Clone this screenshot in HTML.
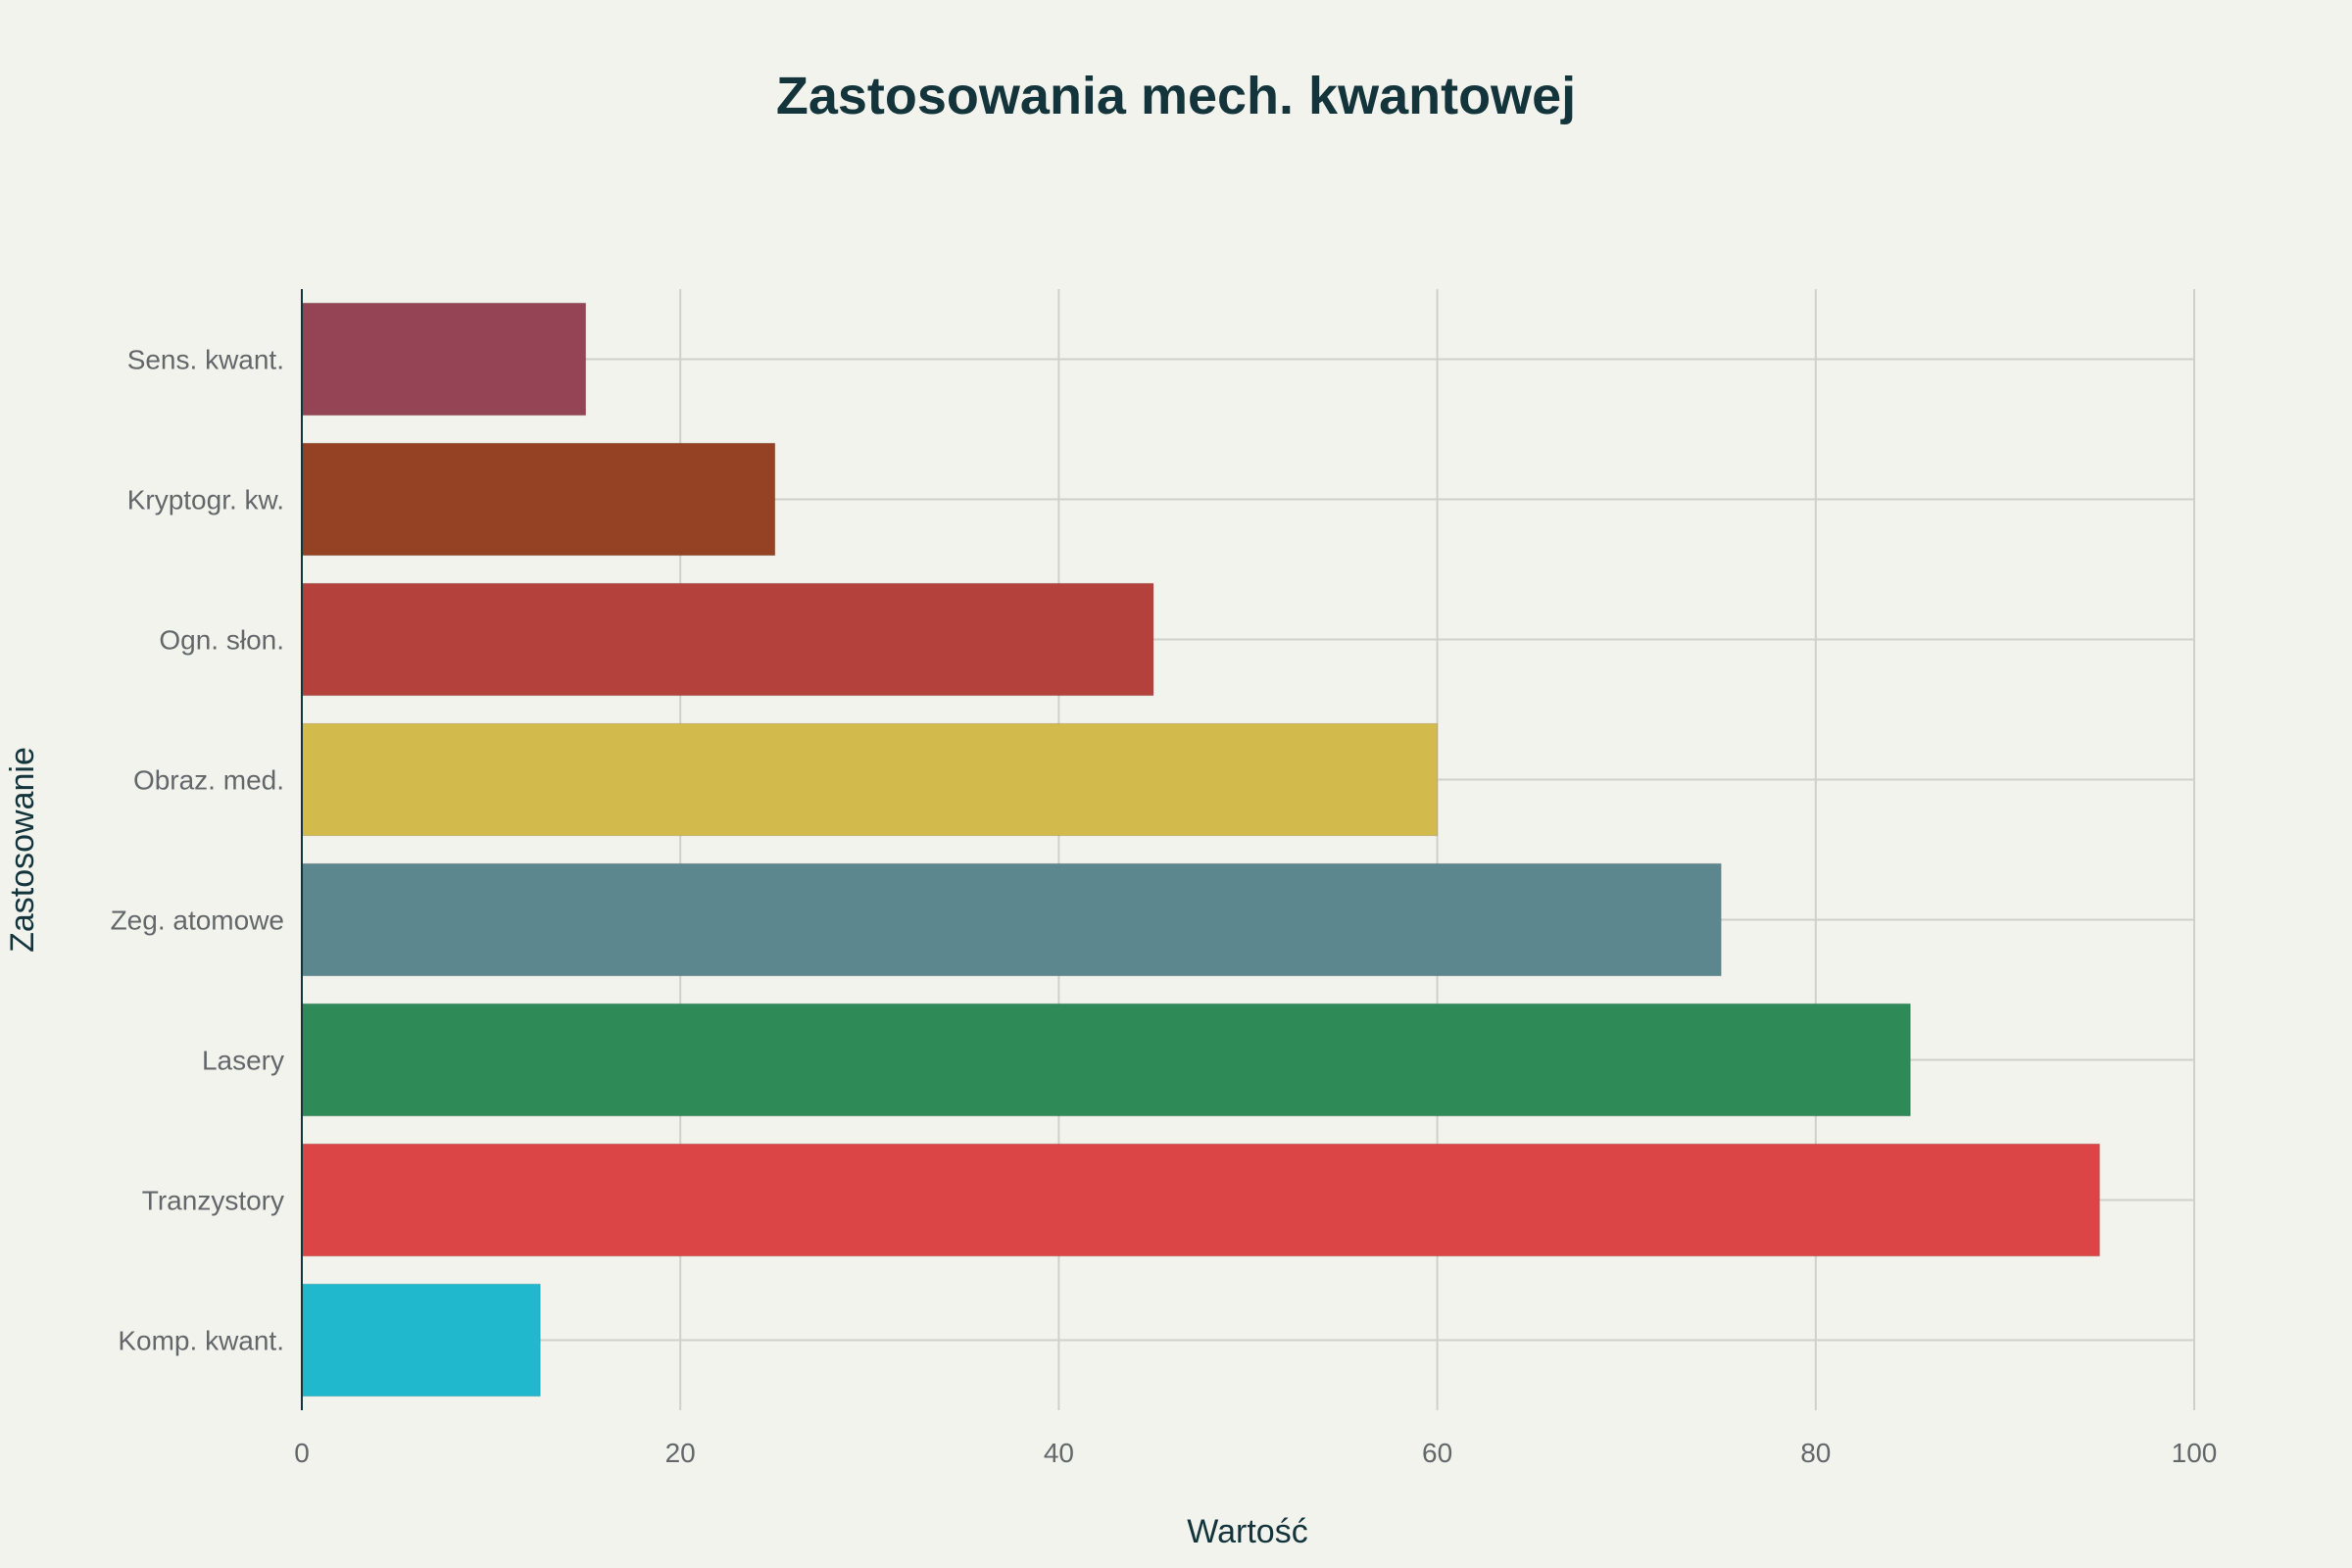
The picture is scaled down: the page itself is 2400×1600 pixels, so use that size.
<!DOCTYPE html>
<html><head><meta charset="utf-8"><style>
html,body{margin:0;padding:0;background:#f3f3ee;}
svg{display:block;font-family:"Liberation Sans",sans-serif;}
</style></head><body>
<svg id="chart" width="2400" height="1600" viewBox="0 0 2400 1600" xmlns="http://www.w3.org/2000/svg">
<rect width="2400" height="1600" fill="#f3f3ee"/>
<text x="1200" y="116" text-anchor="middle" font-size="54" font-weight="bold" fill="#13343b">Zastosowania mech. kwantowej</text>
<g id="grid"></g><g id="bars"></g><g id="ticks"></g>
<text x="1273" y="1574" text-anchor="middle" font-size="34" fill="#13343b">Wartość</text>
<text transform="translate(34,867) rotate(-90)" text-anchor="middle" font-size="34" fill="#13343b">Zastosowanie</text>
</svg>
<script>
const categories = ["Sens. kwant.","Kryptogr. kw.","Ogn. słon.","Obraz. med.","Zeg. atomowe","Lasery","Tranzystory","Komp. kwant."];
const values = [15,25,45,60,75,85,95,12.6];
const colors = ["#944454","#944223","#b4413c","#d2ba4c","#5d878f","#2e8b57","#db4545","#1fb8cd"];
const xTicks = [0,20,40,60,80,100];
const NS="http://www.w3.org/2000/svg";
const x0=308,x1=2239,yTop=295,yBot=1439;
const xs=v=>x0+(v/100)*(x1-x0);
const band=(yBot-yTop)/categories.length;
const yc=i=>yTop+band*(i+0.5);
function mk(tag,attrs,parent){const e=document.createElementNS(NS,tag);for(const k in attrs)e.setAttribute(k,attrs[k]);parent.appendChild(e);return e;}
const grid=document.getElementById('grid'),bars=document.getElementById('bars'),ticks=document.getElementById('ticks');
xTicks.forEach(t=>{
  const l=mk('line',{x1:xs(t),x2:xs(t),y1:yTop,y2:yBot,stroke:'#d0d0cb','stroke-width':2},grid);
  
  
  const tx=mk('text',{x:xs(t),y:1492,'text-anchor':'middle','font-size':28,fill:'#64676a'},ticks);
  tx.textContent=t;
  
  
});
categories.forEach((c,i)=>{
  const g=mk('line',{x1:x0,x2:x1,y1:yc(i),y2:yc(i),stroke:'#d0d0cb','stroke-width':2},grid);
  
  
  const h=band*0.8;
  const r=mk('rect',{x:x0,y:yc(i)-h/2,width:xs(values[i])-x0,height:h,fill:colors[i],stroke:'rgba(0,0,0,0.12)','stroke-width':1},bars);
  
  
  const t=mk('text',{x:290,y:yc(i)+10,'text-anchor':'end','font-size':28,fill:'#64676a'},ticks);
  t.textContent=c;
  
  
});
const ax=mk('line',{x1:x0,x2:x0,y1:yTop,y2:yBot,stroke:'#13343b','stroke-width':2},ticks);


</script>
</body></html>
